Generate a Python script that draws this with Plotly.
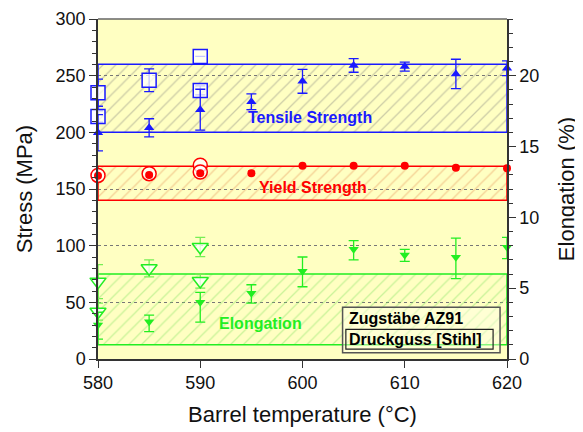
import plotly.graph_objects as go

# ---------------- data ----------------
temps = [580, 585, 590, 595, 600, 605, 610, 615, 620]

tensile = [199.7, 204, 220, 227, 245, 259, 258, 251.5, 256.5]
tensile_err = [16, 8, 18, 7, 10.5, 6, 4, 13, 6.5]

ref_ts_temp = [580, 580, 585, 590, 590]
ref_ts = [235, 214, 246, 267, 237]
ref_ts_err = [12, 5, 10, 0, 4]

yield_s = [161.8, 162.4, 164, 164, 170.6, 170.6, 170.6, 168.8, 168.3]
yield_err = [1.5, 1.5, 1.5, 2.0, 1, 1, 1, 1, 1.5]

ref_ys_temp = [580, 585, 590, 590]
ref_ys = [162, 163.5, 171, 165]

elong = [2.4, 2.63, 4.0, 4.64, 6.2, 7.75, 7.34, 7.18, 7.89]
elong_err_plus = [0.9, 0.47, 0.7, 0.6, 1.0, 0.6, 0.4, 1.35, 0.7]
elong_err_minus = [1.0, 0.7, 1.4, 0.7, 1.1, 0.75, 0.45, 1.5, 0.8]

ref_el_temp = [580, 580, 585, 590, 590]
ref_el = [5.46, 3.34, 6.4, 7.9, 5.5]
ref_el_err = [1.2, 0.6, 0.6, 0.68, 0.5]

ts_band = [200, 260]
ys_band = [140, 170]
el_band = [1, 6]
band_temp = [580, 620]

x_ticks = [580, 590, 600, 610, 620]

BLUE = "#1a1aff"
RED = "#ff0000"
GREEN = "#22ee22"
FONT = "Liberation Sans, Arial, sans-serif"

fig = go.Figure()


def band(lo_hi, color, hatch, yaxis="y"):
    lo, hi = lo_hi
    x0, x1 = band_temp
    fig.add_trace(go.Scatter(
        x=[x0, x1, x1, x0, x0], y=[lo, lo, hi, hi, lo],
        mode="lines", fill="toself", yaxis=yaxis, cliponaxis=False,
        line=dict(color=color, width=1.5),
        fillcolor="rgba(0,0,0,0)",
        fillpattern=dict(shape="/", fgcolor=hatch, bgcolor="rgba(0,0,0,0)",
                         size=9, solidity=0.14),
        hoverinfo="skip", showlegend=False))


band(ts_band, BLUE, "rgba(120,120,120,0.75)")
band(ys_band, RED, "rgba(225,130,70,0.75)")
band(el_band, GREEN, "rgba(120,225,90,0.8)", yaxis="y2")

# Tensile strength
fig.add_trace(go.Scatter(
    x=ref_ts_temp, y=ref_ts, mode="markers", cliponaxis=False,
    marker=dict(symbol="square", size=14, color="rgba(255,255,255,0.75)",
                line=dict(color=BLUE, width=1.5)),
    error_y=dict(type="data", array=ref_ts_err, color=BLUE, thickness=1.3, width=5),
    showlegend=False))
fig.add_trace(go.Scatter(
    x=temps, y=tensile, mode="markers", cliponaxis=False,
    marker=dict(symbol="triangle-up", size=9, color=BLUE),
    error_y=dict(type="data", array=tensile_err, color=BLUE, thickness=1.3, width=5),
    showlegend=False))

# Yield strength
fig.add_trace(go.Scatter(
    x=ref_ys_temp, y=ref_ys, mode="markers", cliponaxis=False,
    marker=dict(symbol="circle", size=14, color="rgba(255,255,255,0.75)",
                line=dict(color=RED, width=1.5)),
    showlegend=False))
fig.add_trace(go.Scatter(
    x=temps, y=yield_s, mode="markers", cliponaxis=False,
    marker=dict(symbol="circle", size=8, color=RED),
    error_y=dict(type="data", array=yield_err, color=RED, thickness=1.3, width=3),
    showlegend=False))

# Elongation
fig.add_trace(go.Scatter(
    x=ref_el_temp, y=ref_el, mode="markers", yaxis="y2", cliponaxis=False,
    marker=dict(symbol="triangle-down", size=14, color="rgba(255,255,255,0.75)",
                line=dict(color=GREEN, width=1.5)),
    error_y=dict(type="data", array=ref_el_err, color="#77ee55", thickness=1.3, width=5),
    showlegend=False))
fig.add_trace(go.Scatter(
    x=temps, y=elong, mode="markers", yaxis="y2", cliponaxis=False,
    marker=dict(symbol="triangle-down", size=9, color=GREEN),
    error_y=dict(type="data", array=elong_err_plus, arrayminus=elong_err_minus,
                 symmetric=False, color=GREEN, thickness=1.3, width=5),
    showlegend=False))

# Band labels
fig.add_annotation(x=600.7, y=213, xref="x", yref="y", text="<b>Tensile Strength</b>",
                   showarrow=False, font=dict(family=FONT, size=16, color=BLUE))
fig.add_annotation(x=601, y=151, xref="x", yref="y", text="<b>Yield Strength</b>",
                   showarrow=False, font=dict(family=FONT, size=16, color=RED))
fig.add_annotation(x=595.9, y=2.5, xref="x", yref="y2", text="<b>Elongation</b>",
                   showarrow=False, font=dict(family=FONT, size=16, color=GREEN))

# Legend-like box
fig.add_shape(type="rect", xref="paper", yref="paper", x0=0.598, x1=0.983, y0=0.0185, y1=0.152,
              line=dict(color="#555555", width=1.5), fillcolor="rgba(255,255,235,0.45)")
fig.add_shape(type="rect", xref="paper", yref="paper", x0=0.606, x1=0.966, y0=0.029, y1=0.087,
              line=dict(color="#222222", width=1.2), fillcolor="rgba(0,0,0,0)")
fig.add_annotation(x=0.610, y=0.118, xref="paper", yref="paper", text="<b>Zugstäbe AZ91</b>",
                   xanchor="left", yanchor="middle", showarrow=False,
                   font=dict(family=FONT, size=16, color="black"))
fig.add_annotation(x=0.610, y=0.058, xref="paper", yref="paper", text="<b>Druckguss [Stihl]</b>",
                   xanchor="left", yanchor="middle", showarrow=False,
                   font=dict(family=FONT, size=16, color="black"))

fig.update_layout(
    width=575, height=424,
    margin=dict(l=90, r=76, t=11, b=73),
    paper_bgcolor="white", plot_bgcolor="#ffffc2",
    font=dict(family=FONT, size=18, color="#111111"),
    showlegend=False,
    xaxis=dict(range=[580, 620], tickvals=x_ticks, ticks="outside", ticklen=7,
               tickcolor="#333333", showline=True, linecolor="#333333", linewidth=1.5,
               mirror=False, showgrid=False, zeroline=False, automargin=False,
               title=dict(text="Barrel temperature (°C)", standoff=14),
               tickfont=dict(size=18)),
    yaxis=dict(range=[0, 300], dtick=50, ticks="outside", ticklen=7,
               tickcolor="#333333", showline=True, linecolor="#333333", linewidth=1.5,
               showgrid=True, gridcolor="#777777", griddash="dot", gridwidth=1,
               zeroline=False, automargin=False,
               minor=dict(dtick=10, ticks="outside", ticklen=4, tickcolor="#333333", showgrid=False),
               title=dict(text="Stress (MPa)", standoff=17),
               tickfont=dict(size=18)),
    yaxis2=dict(range=[0, 24], tickvals=[0, 5, 10, 15, 20], overlaying="y", side="right",
                ticks="outside", ticklen=7, tickcolor="#333333",
                showline=True, linecolor="#333333", linewidth=1.5,
                showgrid=False, zeroline=False, automargin=False,
                minor=dict(dtick=1, ticks="outside", ticklen=4, tickcolor="#333333", showgrid=False),
                title=dict(text="Elongation (%)", standoff=20),
                tickfont=dict(size=18)),
)

# top border line
fig.add_shape(type="line", xref="paper", yref="paper", x0=0, x1=1, y0=1, y1=1,
              line=dict(color="#666666", width=1.5))

fig.write_html("out.html")
